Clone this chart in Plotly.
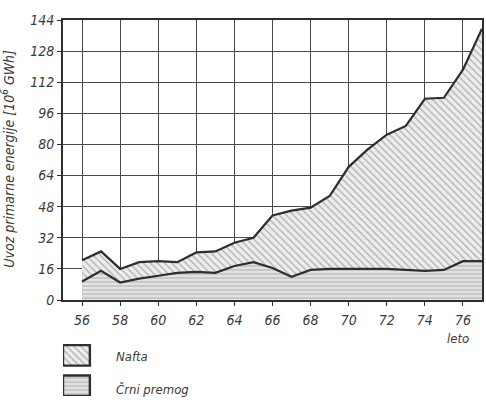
import plotly.graph_objects as go

# ---- data ----
leta = [56, 57, 58, 59, 60, 61, 62, 63, 64, 65, 66, 67, 68, 69, 70, 71, 72, 73, 74, 75, 76, 77]
crni_premog = [9.5, 15, 9, 11, 12.5, 14, 14.5, 14, 17.5, 19.5, 16.5, 12, 15.5, 16, 16, 16, 16, 15.5, 15, 15.5, 20, 20]
nafta = [11, 10, 7, 8.5, 7.5, 5.5, 10, 11, 12, 12.5, 27, 34, 32, 37.5, 52.5, 61.5, 69, 74, 88.5, 88.5, 98.5, 119.5]
y_ticks = [0, 16, 32, 48, 64, 80, 96, 112, 128, 144]
x_ticks = [56, 58, 60, 62, 64, 66, 68, 70, 72, 74, 76]
x_ticktext = ["56", "58", "60", "62", "64", "66", "68", "70", "72", "74", "76"]
legend_names = ["Nafta", "Črni premog"]

FONT = "DejaVu Sans Condensed, Liberation Sans, sans-serif"
INK = "#3a3a3a"
LINE = "#2e2e2e"

hatch_diag = dict(shape="\\", fgcolor="#6f6f6f", bgcolor="#ececec", size=5, solidity=0.25)
hatch_horz = dict(shape="-", fgcolor="#8a8a8a", bgcolor="#e2e2e2", size=4, solidity=0.3)

fig = go.Figure()
fig.add_trace(go.Scatter(x=leta, y=crni_premog, mode="lines", stackgroup="one",
                         line=dict(color=LINE, width=2.2), fillpattern=hatch_horz,
                         name=legend_names[1], showlegend=False))
fig.add_trace(go.Scatter(x=leta, y=nafta, mode="lines", stackgroup="one",
                         line=dict(color=LINE, width=2.2), fillpattern=hatch_diag,
                         name=legend_names[0], showlegend=False))

# legend swatches in a pixel-like helper axis below the chart
W, H = 486, 406
L, R, T, B = 63, 2, 20, 2
y0_px = 306
main_dom = (H - B - y0_px) / (H - T - B)

box_x = [63, 90, 90, 63, 63]
boxes = [([352, 352, 373, 373, 352], hatch_diag), ([383, 383, 404, 404, 383], hatch_horz)]
for by, pat in boxes:
    fig.add_trace(go.Scatter(x=box_x, y=by, mode="lines", fill="toself", fillpattern=pat,
                             line=dict(color=LINE, width=2.4), xaxis="x2", yaxis="y2",
                             showlegend=False, hoverinfo="skip"))

fig.add_annotation(x=114, y=364, xref="x2", yref="y2", text=legend_names[0], showarrow=False,
                   xanchor="left", font=dict(family=FONT, size=13, color=INK, style="italic"))
fig.add_annotation(x=114, y=397, xref="x2", yref="y2", text=legend_names[1], showarrow=False,
                   xanchor="left", font=dict(family=FONT, size=13, color=INK, style="italic"))
fig.add_annotation(x=460, y=345, xref="x2", yref="y2", text="leto", showarrow=False,
                   xanchor="center", font=dict(family=FONT, size=13, color=INK, style="italic"))
fig.add_annotation(x=-0.13, y=0.63, xref="paper", yref="paper", textangle=-90,
                   xanchor="center", yanchor="middle",
                   text="Uvoz primarne energije [10<sup>6</sup> GWh]", showarrow=False,
                   font=dict(family=FONT, size=14, color=INK, style="italic"))

tickfont = dict(family=FONT, size=14, color=INK, style="italic")
fig.update_layout(
    width=W, height=H, margin=dict(l=L, r=R, t=T, b=B),
    paper_bgcolor="white", plot_bgcolor="white",
    xaxis=dict(range=[55, 77], tickvals=x_ticks, ticktext=x_ticktext, showgrid=True,
               gridcolor="#4a4a4a", gridwidth=1, showline=True, linecolor=LINE, linewidth=2,
               mirror=True, ticks="outside", ticklen=4, tickcolor=LINE, tickfont=tickfont,
               ticklabelstandoff=2, zeroline=False, anchor="y"),
    yaxis=dict(range=[0, 144], tickvals=y_ticks, domain=[main_dom, 1], showgrid=True,
               gridcolor="#4a4a4a", gridwidth=1, showline=True, linecolor=LINE, linewidth=2,
               mirror=True, ticks="outside", ticklen=4, tickcolor=LINE, tickfont=tickfont,
               zeroline=False, anchor="x"),
    xaxis2=dict(range=[L, W - R], domain=[0, 1], visible=False, anchor="y2", fixedrange=True),
    yaxis2=dict(range=[H - B, y0_px], domain=[0, main_dom], visible=False, anchor="x2", fixedrange=True),
    showlegend=False,
)

fig.write_html("out.html")
